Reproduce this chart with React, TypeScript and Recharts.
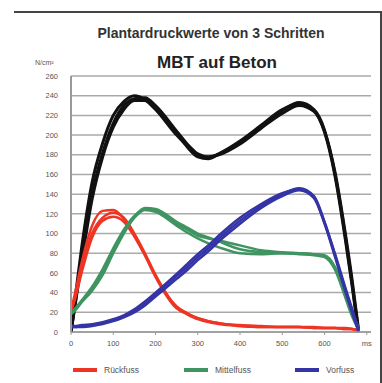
import { CartesianGrid, Legend, Line, LineChart, XAxis, YAxis } from 'recharts'

// time axis (ms) shared by all traces
const ms = [0, 10, 25, 50, 75, 100, 125, 150, 175, 200, 250, 275, 300, 325, 350, 400, 450, 500, 540, 575, 600, 625, 650, 665, 680]

// Gesamt (black), 3 steps
const gesamt1 = [0, 35, 85, 152, 192, 220, 234, 240, 236, 226, 200, 189, 180, 177, 181, 193, 209, 225, 233, 226, 205, 160, 95, 50, 2]
const gesamt2 = [0, 30, 75, 140, 182, 212, 230, 237, 238, 230, 204, 191, 181, 178, 180, 191, 207, 222, 230, 224, 203, 158, 92, 48, 0]
const gesamt3 = [0, 28, 70, 135, 178, 208, 226, 235, 235, 228, 202, 188, 178, 176, 181, 194, 210, 226, 231, 225, 204, 162, 98, 54, 4]

// Rückfuss (red)
const rueck1 = [22, 40, 70, 108, 123, 124, 115, 98, 78, 56, 24, 18, 13, 10, 8, 6, 5, 5, 5, 4, 4, 4, 3, 3, 1]
const rueck2 = [20, 34, 60, 96, 113, 117, 112, 97, 78, 57, 26, 19, 14, 11, 9, 7, 6, 5, 5, 5, 4, 4, 4, 3, 1]
const rueck3 = [24, 36, 64, 100, 116, 121, 116, 100, 80, 58, 25, 19, 14, 11, 9, 6, 5, 5, 5, 4, 4, 4, 3, 3, 2]

// Mittelfuss (green)
const mittel1 = [20, 24, 32, 46, 64, 85, 104, 118, 125, 124, 110, 104, 98, 95, 93, 88, 83, 81, 80, 79, 77, 65, 36, 18, 4]
const mittel2 = [18, 22, 30, 42, 58, 80, 100, 116, 124, 122, 108, 101, 95, 90, 86, 80, 79, 80, 79, 78, 76, 63, 34, 16, 3]
const mittel3 = [19, 23, 31, 44, 60, 82, 102, 117, 126, 125, 112, 106, 100, 96, 92, 84, 81, 80, 80, 79, 78, 66, 38, 20, 5]

// Vorfuss (blue)
const vor1 = [5, 5, 6, 7, 9, 12, 16, 22, 29, 38, 57, 66, 76, 85, 95, 113, 128, 140, 146, 138, 112, 78, 42, 22, 2]
const vor2 = [5, 5, 5, 6, 8, 11, 15, 20, 27, 36, 54, 63, 73, 82, 92, 110, 126, 138, 144, 136, 110, 76, 40, 20, 1]
const vor3 = [6, 6, 7, 8, 10, 13, 17, 23, 31, 40, 59, 69, 79, 88, 98, 116, 130, 141, 145, 137, 111, 79, 44, 24, 3]

const xTicks = [0, 100, 200, 300, 400, 500, 600, 700]
const yTicks = [0, 20, 40, 60, 80, 100, 120, 140, 160, 180, 200, 220, 240, 260]

const series = [
  { key: 'g1', values: gesamt1, color: '#111111', w: 3 },
  { key: 'g2', values: gesamt2, color: '#111111', w: 3 },
  { key: 'g3', values: gesamt3, color: '#111111', w: 3 },
  { key: 'r1', values: rueck1, color: '#ee3524', w: 2.5 },
  { key: 'r2', values: rueck2, color: '#ee3524', w: 2.5 },
  { key: 'r3', values: rueck3, color: '#ee3524', w: 2.5 },
  { key: 'm1', values: mittel1, color: '#3f9462', w: 2.5 },
  { key: 'm2', values: mittel2, color: '#3f9462', w: 2.5 },
  { key: 'm3', values: mittel3, color: '#3f9462', w: 2.5 },
  { key: 'v1', values: vor1, color: '#3434a6', w: 2.5 },
  { key: 'v2', values: vor2, color: '#3434a6', w: 2.5 },
  { key: 'v3', values: vor3, color: '#3434a6', w: 2.5 },
]

const data = ms.map((t, i) => {
  const row: Record<string, number> = { t }
  series.forEach((s) => (row[s.key] = s.values[i]))
  return row
})

const legendItems = [
  { label: 'Rückfuss', color: '#ee3524', x: 73 },
  { label: 'Mittelfuss', color: '#3f9462', x: 184 },
  { label: 'Vorfuss', color: '#3434a6', x: 295 },
]

const font = '"Liberation Sans", Arial, sans-serif'

function LegendRow() {
  return (
    <div style={{ position: 'relative', height: 12, width: 382, fontFamily: font, fontSize: 8.5, color: '#555' }}>
      {legendItems.map((it) => (
        <div key={it.label} style={{ position: 'absolute', left: it.x, top: 0, display: 'flex', alignItems: 'center' }}>
          <span style={{ display: 'inline-block', width: 24, height: 4, background: it.color, marginRight: 7 }} />
          <span>{it.label}</span>
        </div>
      ))}
    </div>
  )
}

export default function App() {
  return (
    <div style={{ position: 'absolute', left: 0, top: 0, width: 382, height: 383, background: '#fff', fontFamily: font }}>
      <div
        style={{
          position: 'absolute',
          left: 14,
          top: 11,
          width: 366,
          height: 370,
          borderTop: '2px solid #444',
          borderRight: '2px solid #444',
          borderBottom: '1px solid #ddd',
        }}
      />
      <div style={{ position: 'absolute', left: 0, width: 422, top: 25, textAlign: 'center', fontSize: 14, fontWeight: 'bold', color: '#333' }}>
        Plantardruckwerte von 3 Schritten
      </div>
      <div style={{ position: 'absolute', left: 0, width: 434, top: 53, textAlign: 'center', fontSize: 17, fontWeight: 'bold', color: '#222' }}>
        MBT auf Beton
      </div>
      <div style={{ position: 'absolute', left: 35, top: 59, fontSize: 7, color: '#555' }}>
        N/cm²
      </div>
      <LineChart width={382} height={383} data={data} margin={{ top: 76, right: 11, left: 11, bottom: 17 }}>
        <CartesianGrid horizontal vertical={false} stroke="#aaa" strokeWidth={1.5} />
        <XAxis
          dataKey="t"
          type="number"
          domain={[0, 710]}
          allowDataOverflow
          ticks={xTicks}
          tickFormatter={(v) => (v === 700 ? 'ms' : String(v))}
          tick={{ fill: '#555', fontSize: 7.5, fontFamily: font }}
          axisLine={{ stroke: '#999', strokeWidth: 1.5 }}
          tickLine={{ stroke: '#999' }}
          tickSize={3}
          tickMargin={6}
          height={22}
        />
        <YAxis
          domain={[0, 260]}
          ticks={yTicks}
          interval={0}
          tick={{ fill: '#555', fontSize: 7.5, fontFamily: font }}
          axisLine={{ stroke: '#999', strokeWidth: 2 }}
          tickLine={false}
          tickMargin={7}
          width={60}
        />
        <YAxis yAxisId="r" orientation="right" domain={[0, 260]} tick={false} axisLine={{ stroke: '#bbb' }} tickLine={false} width={0} />
        {series.map((s) => (
          <Line
            key={s.key}
            dataKey={s.key}
            type="monotone"
            stroke={s.color}
            strokeWidth={s.w}
            dot={false}
            isAnimationActive={false}
          />
        ))}
        <Legend verticalAlign="bottom" wrapperStyle={{ left: 0, bottom: 6 }} content={() => <LegendRow />} />
      </LineChart>
    </div>
  )
}
